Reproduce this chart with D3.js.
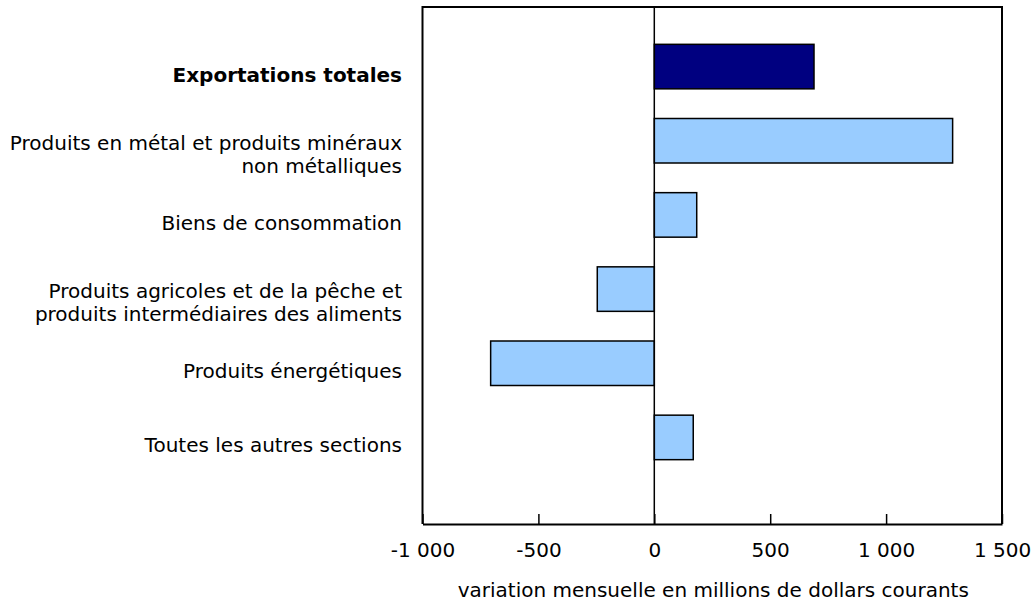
<!DOCTYPE html>
<html><head><meta charset="utf-8">
<script src="https://cdn.jsdelivr.net/npm/d3@7"></script>
<style>
body{margin:0;background:#fff;}
svg{display:block;font-family:"DejaVu Sans",Verdana,sans-serif;}
</style></head>
<body><svg id="c" width="1032" height="602"></svg>
<script>
const categories = [
  ["Exportations totales"],
  ["Produits en métal et produits minéraux", "non métalliques"],
  ["Biens de consommation"],
  ["Produits agricoles et de la pêche et", "produits intermédiaires des aliments"],
  ["Produits énergétiques"],
  ["Toutes les autres sections"]
];
const values = [689, 1287, 183, -246, -706, 168];
const highlighted = [true, false, false, false, false, false];
const tickValues = [-1000, -500, 0, 500, 1000, 1500];
const tickLabels = ["-1 000", "-500", "0", "500", "1 000", "1 500"];
const axisTitle = "variation mensuelle en millions de dollars courants";

const FS = 20;
const svg = d3.select("#c");
const L = 422.5, R = 1002, T = 7, B = 524;
const x = d3.scaleLinear().domain([-1000, 1500]).range([L, R]);
const idx = d3.range(categories.length);
const y = d3.scaleBand().domain(idx).range([29.5, 474.5]).paddingInner(0.4).paddingOuter(0.2);

// frame
svg.append("path")
  .attr("d", `M${L},${B}V${T}H${R}V${B}`)
  .attr("fill", "none").attr("stroke", "#000").attr("stroke-width", 2);

// bars
svg.append("g").selectAll("rect").data(idx).join("rect")
  .attr("x", i => x(Math.min(0, values[i])))
  .attr("y", i => y(i))
  .attr("width", i => Math.abs(x(values[i]) - x(0)))
  .attr("height", y.bandwidth())
  .attr("fill", i => highlighted[i] ? "#000080" : "#99ccff")
  .attr("stroke", "#000").attr("stroke-width", 1.5);

// zero line
svg.append("line")
  .attr("x1", x(0)).attr("x2", x(0)).attr("y1", T).attr("y2", B)
  .attr("stroke", "#000").attr("stroke-width", 1.5);

// x axis
const xAxis = d3.axisBottom(x).tickValues(tickValues)
  .tickFormat((d, i) => tickLabels[i]).tickSizeInner(-10).tickSizeOuter(0).tickPadding(19);
const gx = svg.append("g").attr("transform", `translate(0,${B})`).call(xAxis);
gx.select(".domain").attr("stroke", "#000").attr("stroke-width", 2);
gx.selectAll(".tick line").attr("stroke", "#000").attr("stroke-width", 1.5);
gx.selectAll(".tick text").attr("font-size", FS).attr("fill", "#000")
  .attr("font-family", '"DejaVu Sans",Verdana,sans-serif');

svg.append("text").attr("x", (L + R) / 2 + 1).attr("y", 597)
  .attr("text-anchor", "middle").attr("font-size", FS).attr("fill", "#000")
  .text(axisTitle);

// category labels
const lab = svg.append("g").selectAll("text").data(idx).join("text")
  .attr("text-anchor", "end").attr("font-size", FS).attr("fill", "#000")
  .attr("font-weight", i => highlighted[i] ? "bold" : "normal")
  .attr("x", 402)
  .attr("y", i => y(i) + y.bandwidth() / 2 + (categories[i].length === 1 ? 15 : 9));
lab.each(function(i) {
  const t = d3.select(this);
  categories[i].forEach((s, k) => {
    t.append("tspan").attr("x", 402).attr("dy", k === 0 ? 0 : 23).text(s);
  });
});
</script></body></html>
